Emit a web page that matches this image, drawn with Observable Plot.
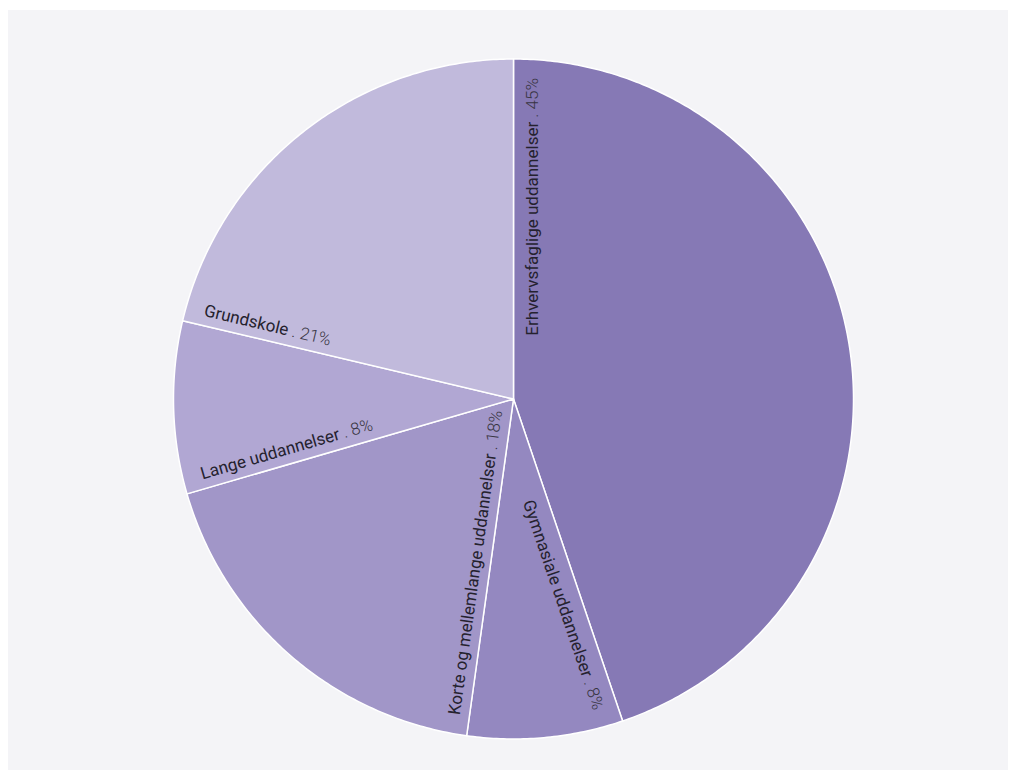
<!DOCTYPE html>
<html>
<head>
<meta charset="utf-8">
<script src="https://cdn.jsdelivr.net/npm/d3@7"></script>
<script src="https://cdn.jsdelivr.net/npm/@observablehq/plot@0.6"></script>
<style>
  html, body { margin: 0; padding: 0; background: #ffffff; }
  #chart { position: absolute; left: 8px; top: 10px; }
  #chart svg { display: block; background: #f4f4f7; }
</style>
</head>
<body>
<div id="chart"></div>
<script>
// ---- data ----
const categories = [
  "Erhvervsfaglige uddannelser",
  "Gymnasiale uddannelser",
  "Korte og mellemlange uddannelser",
  "Lange uddannelser",
  "Grundskole"
];
const shares = [44.8, 7.4, 18.3, 8.2, 21.3];
const shareLabels = ["45%", "8%", "18%", "8%", "21%"];
const colors = ["#8679b5", "#9488c0", "#a196c8", "#b1a7d3", "#c1badc"];

// ---- layout ----
const W = 1000, H = 760;
const cx = 505, cy = 388.5, R = 340;
const labelR = 321;

const data = categories.map((name, i) => ({name, value: shares[i], label: shareLabels[i]}));
const arcs = d3.pie().sort(null).value(d => d.value)(data);

// polygon points for every slice (angles clockwise from 12 o'clock)
const pts = [];
for (const a of arcs) {
  pts.push({name: a.data.name, x: cx, y: cy});
  const n = Math.max(2, Math.ceil((a.endAngle - a.startAngle) / 0.01));
  for (let k = 0; k <= n; k++) {
    const t = a.startAngle + (a.endAngle - a.startAngle) * k / n;
    pts.push({name: a.data.name, x: cx + R * Math.sin(t), y: cy - R * Math.cos(t)});
  }
}

// label placement along the starting edge of each slice
const labels = arcs.map(a => {
  const t = a.startAngle;
  const ux = Math.sin(t), uy = -Math.cos(t);      // along edge, outward
  const tx = Math.cos(t), ty = Math.sin(t);       // perpendicular, into slice
  const right = t < Math.PI;
  const off = right ? 19 : 15;
  const rot = right ? Math.atan2(uy, ux) : Math.atan2(-uy, -ux);
  return {
    name: a.data.name,
    text: a.data.name + " . " + a.data.label,
    x: cx + labelR * ux + off * tx,
    y: cy + labelR * uy + off * ty,
    rotate: rot * 180 / Math.PI,
    right
  };
});

const textOpts = {
  x: "x", y: "y", text: "text", rotate: "rotate",
  fill: "#25222e", fontSize: 17, lineAnchor: "middle"
};

const plot = Plot.plot({
  width: W, height: H,
  margin: 0,
  style: {background: "#f4f4f7", fontFamily: "Roboto, 'Noto Sans', sans-serif"},
  x: {domain: [0, W], range: [0, W], axis: null},
  y: {domain: [0, H], range: [0, H], axis: null},
  color: {domain: categories, range: colors},
  marks: [
    Plot.line(pts, {x: "x", y: "y", z: "name", fill: "name", stroke: "#ffffff", strokeWidth: 1.5, curve: "linear-closed"}),
    Plot.text(labels.filter(d => d.right), {...textOpts, textAnchor: "end"}),
    Plot.text(labels.filter(d => !d.right), {...textOpts, textAnchor: "start"})
  ]
});

// split each label into name + lighter share part
d3.select(plot).selectAll("text").each(function() {
  const s = this.textContent;
  const i = s.lastIndexOf(" . ");
  if (i < 0) return;
  const el = d3.select(this);
  el.text(null);
  el.append("tspan").text(s.slice(0, i));
  el.append("tspan").attr("font-weight", 300).attr("fill", "#383542").text(s.slice(i));
});

document.getElementById("chart").appendChild(plot);
</script>
</body>
</html>
